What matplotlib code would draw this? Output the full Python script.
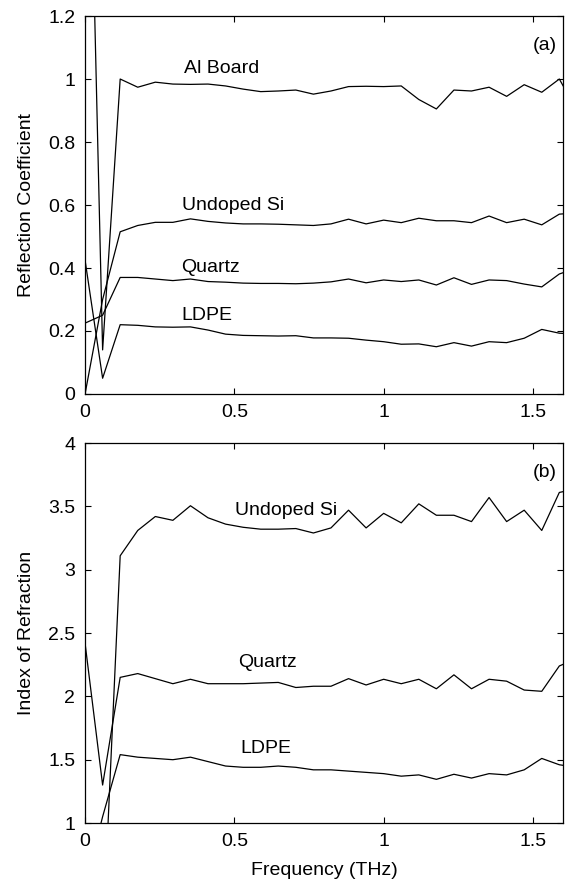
import numpy as np
import matplotlib
matplotlib.use("Agg")
import matplotlib.pyplot as plt
from matplotlib.ticker import FuncFormatter

plt.rcParams['font.family'] = ['Liberation Sans', 'DejaVu Sans']

# frequency grid (THz)
freq = [0.0, 0.0588, 0.1176, 0.1764, 0.2352, 0.294, 0.3528, 0.4116, 0.4704, 0.5292,
        0.588, 0.6468, 0.7056, 0.7644, 0.8232, 0.882, 0.9408, 0.9996, 1.0584, 1.1172,
        1.176, 1.2348, 1.2936, 1.3524, 1.4112, 1.47, 1.5288, 1.5876, 1.6464]

# (a) reflection coefficient
al_freq = [0.0] + freq
al_board = [0.0, 2.5, 0.14, 1.0, 0.974, 0.99, 0.984, 0.983, 0.984, 0.978, 0.968, 0.96,
            0.962, 0.965, 0.952, 0.962, 0.976, 0.977, 0.976, 0.978, 0.935, 0.905,
            0.965, 0.962, 0.974, 0.945, 0.982, 0.958, 1.0, 0.9]
si_refl = [0.0, 0.30, 0.515, 0.535, 0.545, 0.545, 0.556, 0.548, 0.543, 0.54, 0.54,
           0.539, 0.537, 0.535, 0.54, 0.555, 0.54, 0.552, 0.544, 0.558, 0.55, 0.55,
           0.544, 0.565, 0.544, 0.555, 0.537, 0.571, 0.575]
quartz_refl = [0.225, 0.25, 0.37, 0.37, 0.365, 0.36, 0.365, 0.357, 0.355, 0.352, 0.351,
               0.351, 0.35, 0.352, 0.356, 0.365, 0.353, 0.362, 0.357, 0.362, 0.346,
               0.369, 0.348, 0.362, 0.36, 0.349, 0.34, 0.381, 0.4]
ldpe_refl = [0.425, 0.05, 0.22, 0.218, 0.213, 0.212, 0.213, 0.203, 0.19, 0.186, 0.185,
             0.184, 0.185, 0.178, 0.178, 0.177, 0.171, 0.166, 0.158, 0.159, 0.15,
             0.163, 0.152, 0.166, 0.163, 0.177, 0.205, 0.193, 0.19]

# (b) index of refraction
si_index = [0.3, 0.05, 3.11, 3.31, 3.42, 3.39, 3.505, 3.41, 3.36, 3.335, 3.32, 3.32,
            3.325, 3.29, 3.33, 3.47, 3.33, 3.445, 3.37, 3.52, 3.43, 3.43, 3.38, 3.57,
            3.38, 3.47, 3.31, 3.61, 3.64]
quartz_index = [2.42, 1.30, 2.15, 2.18, 2.14, 2.10, 2.135, 2.10, 2.10, 2.10, 2.105, 2.11,
                2.07, 2.08, 2.08, 2.14, 2.09, 2.135, 2.10, 2.135, 2.06, 2.17, 2.06,
                2.135, 2.12, 2.05, 2.04, 2.24, 2.30]
ldpe_index = [0.5, 1.05, 1.54, 1.52, 1.51, 1.50, 1.52, 1.485, 1.45, 1.44, 1.44, 1.45,
              1.44, 1.42, 1.42, 1.41, 1.40, 1.39, 1.37, 1.38, 1.345, 1.385, 1.355,
              1.39, 1.38, 1.42, 1.51, 1.46, 1.44]

fig = plt.figure(figsize=(5.67, 8.81), dpi=100)
ax1 = fig.add_axes([0.150, 0.5528, 0.843, 0.429])
ax2 = fig.add_axes([0.150, 0.0658, 0.843, 0.4313])

lw = 0.9
fs = 14
fmt = FuncFormatter(lambda v, p: "%g" % v)

# top panel
ax1.plot(al_freq, al_board, color="black", lw=lw)
ax1.plot(freq, si_refl, color="black", lw=lw)
ax1.plot(freq, quartz_refl, color="black", lw=lw)
ax1.plot(freq, ldpe_refl, color="black", lw=lw)
ax1.set_xlim(0, 1.6)
ax1.set_ylim(0, 1.2)
ax1.set_yticks([0, 0.2, 0.4, 0.6, 0.8, 1.0, 1.2])
ax1.set_ylabel("Reflection Coefficient", fontsize=fs)
ax1.text(0.33, 1.035, "Al Board", fontsize=fs, va="center")
ax1.text(0.323, 0.597, "Undoped Si", fontsize=fs, va="center")
ax1.text(0.323, 0.403, "Quartz", fontsize=fs, va="center")
ax1.text(0.323, 0.248, "LDPE", fontsize=fs, va="center")
ax1.text(1.50, 1.108, "(a)", fontsize=fs, va="center")

# bottom panel
ax2.plot(freq, si_index, color="black", lw=lw)
ax2.plot(freq, quartz_index, color="black", lw=lw)
ax2.plot(freq, ldpe_index, color="black", lw=lw)
ax2.set_xlim(0, 1.6)
ax2.set_ylim(1, 4)
ax2.set_yticks([1, 1.5, 2, 2.5, 3, 3.5, 4])
ax2.set_ylabel("Index of Refraction", fontsize=fs)
ax2.set_xlabel("Frequency (THz)", fontsize=fs, labelpad=9)
ax2.text(0.502, 3.465, "Undoped Si", fontsize=fs, va="center")
ax2.text(0.513, 2.27, "Quartz", fontsize=fs, va="center")
ax2.text(0.521, 1.585, "LDPE", fontsize=fs, va="center")
ax2.text(1.50, 3.77, "(b)", fontsize=fs, va="center")

for ax in (ax1, ax2):
    ax.set_xticks([0, 0.5, 1, 1.5])
    ax.xaxis.set_major_formatter(fmt)
    ax.yaxis.set_major_formatter(fmt)
    ax.tick_params(direction="in", top=True, right=True, length=4, width=0.8,
                   labelsize=fs, pad=7)
    for s in ax.spines.values():
        s.set_linewidth(0.9)
    ax.yaxis.set_label_coords(-0.105, 0.5)

fig.savefig("out.png", dpi=100)
